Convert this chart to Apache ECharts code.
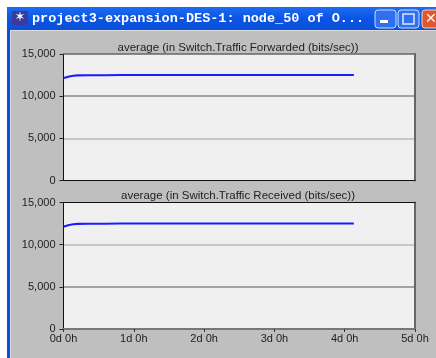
<!DOCTYPE html>
<html>
<head>
<meta charset="utf-8">
<style>
html,body{margin:0;padding:0;background:#fff;}
#container{width:436px;height:358px;filter:blur(0.35px);}
</style>
<script src="https://cdn.jsdelivr.net/npm/echarts@6/dist/echarts.min.js"></script>
</head>
<body>
<div id="container"></div>
<script>
// 窗口标题和图表标题
var windowTitle = 'project3-expansion-DES-1: node_50 of O...';
var forwardedTitle = 'average (in Switch.Traffic Forwarded (bits/sec))';
var receivedTitle = 'average (in Switch.Traffic Received (bits/sec))';

// 时间（天）
var days = [0, 0.03, 0.08, 0.14, 0.2, 0.35, 0.6, 0.8, 1, 1.5, 2, 2.5, 3, 3.5, 4, 4.13];
// 流量 bits/sec
var forwarded = [12150, 12220, 12330, 12420, 12470, 12480, 12480, 12510, 12510, 12510, 12510, 12510, 12510, 12510, 12510, 12510];
var received = [12130, 12220, 12330, 12420, 12470, 12480, 12480, 12510, 12510, 12510, 12510, 12510, 12510, 12510, 12510, 12510];

var fontName = '"Liberation Sans", Arial, sans-serif';
var plotLeft = 63.5, plotWidth = 351.5;

function pairs(ys){
    var list = [];
    for(var i=0;i<days.length;i++){
        list.push([days[i], ys[i]]);
    }
    return list;
}

function xAxisOf(grid, position, color, width, labels){
    return {
        type: 'value', gridIndex: grid, position: position,
        min: 0, max: 5, interval: 1,
        axisLine: {show: true, onZero: false, lineStyle: {color: color, width: width}},
        axisTick: {show: labels, length: 3, lineStyle: {color: '#333'}},
        axisLabel: {
            show: labels, color: '#222', fontSize: 11, fontFamily: fontName, margin: 4,
            formatter: function (v) { return v + 'd 0h'; }
        },
        splitLine: {show: false}
    };
}

// splitColors 依次对应 5,000 和 10,000 两条网格线
function yAxisOf(grid, position, color, width, labels, splitColors){
    return {
        type: 'value', gridIndex: grid, position: position,
        min: 0, max: 15000, interval: 5000,
        axisLine: {show: true, onZero: false, lineStyle: {color: color, width: width}},
        axisTick: {show: labels, length: 4, lineStyle: {color: '#222'}},
        axisLabel: {
            show: labels, color: '#222', fontSize: 11, fontFamily: fontName, margin: 8,
            formatter: function (v) { return v === 0 ? '0' : (v / 1000) + ',000'; }
        },
        splitLine: {show: labels, showMinLine: false, showMaxLine: false, lineStyle: {color: splitColors || '#888', width: 1.5}}
    };
}

function lineOf(name, index, ys){
    return {
        name: name, type: 'line', xAxisIndex: index, yAxisIndex: index,
        showSymbol: false, smooth: false, silent: true,
        lineStyle: {color: '#1c1cff', width: 2.2},
        data: pairs(ys), z: 5
    };
}

var myChart = echarts.init(document.getElementById('container'), null, {renderer: 'canvas'});
var option = {
    backgroundColor: '#fff',
    animation: false,
    title: [
        {text: forwardedTitle, left: 238, top: 41.5, textAlign: 'center', padding: 0,
            textStyle: {color: '#222', fontSize: 11.5, fontWeight: 'normal', fontFamily: fontName}},
        {text: receivedTitle, left: 238, top: 189.5, textAlign: 'center', padding: 0,
            textStyle: {color: '#222', fontSize: 11.5, fontWeight: 'normal', fontFamily: fontName}}
    ],
    grid: [
        {left: plotLeft, width: plotWidth, top: 54, height: 126.5, show: true, backgroundColor: '#f0f0f0', borderWidth: 0},
        {left: plotLeft, width: plotWidth, top: 202.5, height: 126.5, show: true, backgroundColor: '#f0f0f0', borderWidth: 0}
    ],
    xAxis: [
        xAxisOf(0, 'bottom', '#111', 1, false),
        xAxisOf(1, 'bottom', '#777', 2, true),
        xAxisOf(0, 'top', '#666', 1.5, false),
        xAxisOf(1, 'top', '#111', 1, false)
    ],
    yAxis: [
        yAxisOf(0, 'left', '#111', 1, true, ['#b8b8b8', '#888']),
        yAxisOf(1, 'left', '#111', 1, true, ['#888', '#b8b8b8']),
        yAxisOf(0, 'right', '#666', 2, false),
        yAxisOf(1, 'right', '#666', 2, false)
    ],
    series: [
        lineOf('Forwarded', 0, forwarded),
        lineOf('Received', 1, received)
    ],
    graphic: [
        // 窗口外框
        {type: 'rect', z: -10, shape: {x: 7, y: 7, width: 429, height: 351}, style: {fill: '#0a50e0'}},
        {type: 'rect', z: -9, shape: {x: 10, y: 29, width: 426, height: 329}, style: {fill: '#dcdcdc'}},
        {type: 'rect', z: -9, shape: {x: 11, y: 31, width: 425, height: 327}, style: {fill: '#bfbfbf'}},
        {type: 'rect', z: -9, shape: {x: 7, y: 7, width: 429, height: 23},
            style: {fill: new echarts.graphic.LinearGradient(0, 0, 0, 1, [
                {offset: 0, color: '#1f6cf0'}, {offset: 0.5, color: '#0a55e6'}, {offset: 1, color: '#0a4fd6'}
            ])}},
        {type: 'text', z: -8, style: {x: 32, y: 18.5, text: windowTitle, fill: '#fff', verticalAlign: 'middle',
            font: 'bold 13.5px "Liberation Mono", monospace'}},
        // 图标
        {type: 'rect', z: -8, shape: {x: 12, y: 11, width: 16, height: 14}, style: {fill: '#3a3a9a'}},
        {type: 'text', z: -7, style: {x: 20, y: 18, text: '✶', fill: '#fff', align: 'center', verticalAlign: 'middle',
            font: '13px "DejaVu Sans"'}},
        // 按钮
        {type: 'rect', z: -8, shape: {x: 375, y: 10, width: 21, height: 18, r: 3}, style: {fill: '#2f6ff0', stroke: '#cfe0ff', lineWidth: 1}},
        {type: 'rect', z: -7, shape: {x: 380, y: 20, width: 8, height: 3}, style: {fill: '#fff'}},
        {type: 'rect', z: -8, shape: {x: 398, y: 10, width: 21, height: 18, r: 3}, style: {fill: '#2f6ff0', stroke: '#cfe0ff', lineWidth: 1}},
        {type: 'rect', z: -7, shape: {x: 403, y: 14, width: 11, height: 10}, style: {fill: 'none', stroke: '#dfe9ff', lineWidth: 1.5}},
        {type: 'rect', z: -8, shape: {x: 422, y: 10, width: 21, height: 18, r: 3}, style: {fill: '#e0582f', stroke: '#f0d0c0', lineWidth: 1}},
        {type: 'text', z: -7, style: {x: 425, y: 19, text: '✕', fill: '#fff', verticalAlign: 'middle', font: 'bold 14px "DejaVu Sans"'}}
    ]
};
myChart.setOption(option);
</script>
</body>
</html>
